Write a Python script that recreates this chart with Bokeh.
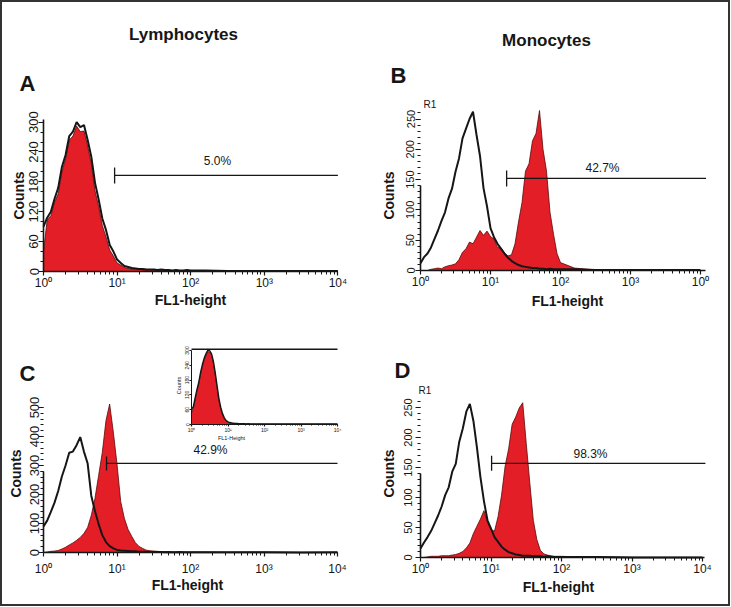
import math
from bokeh.plotting import figure
from bokeh.layouts import row, column
from bokeh.models import Range1d, LogScale, LogAxis, LinearAxis, FixedTicker, Label
from bokeh.embed import file_html
from bokeh.resources import INLINE

# ---------------- data ----------------
# histogram channel positions (log10 of FL1)
fl1_decade = [0.00, 0.05, 0.10, 0.15, 0.20, 0.25, 0.30, 0.35, 0.40, 0.45,
              0.50, 0.55, 0.60, 0.65, 0.70, 0.75, 0.80, 0.85, 0.90, 0.95,
              1.00, 1.05, 1.10, 1.15, 1.20, 1.25, 1.30, 1.35, 1.40, 1.45,
              1.50, 1.55, 1.60, 1.65, 1.70, 1.75, 1.80, 1.85, 1.90, 1.95,
              2.00, 2.20, 2.50, 3.00, 3.50, 4.00]

a_red = [40, 104, 112, 139, 156, 200, 226, 264, 272, 292,
         281, 282, 252, 216, 162, 130, 92, 69, 43, 31,
         17, 13, 8, 6, 5, 4, 4, 3, 3, 3,
         2, 2, 2, 3, 2, 2, 1, 2, 1, 2,
         1, 1, 0, 0, 0, 0]
a_black = [90, 108, 120, 146, 168, 210, 234, 272, 281, 300,
           290, 294, 264, 230, 178, 144, 106, 83, 53, 40,
           24, 17, 11, 9, 7, 6, 5, 5, 4, 4,
           4, 3, 4, 3, 3, 2, 3, 2, 2, 3,
           2, 2, 1, 1, 1, 1]

b_red = [0, 0, 0, 2, 3, 4, 3, 6, 8, 9,
         11, 18, 30, 36, 47, 44, 55, 66, 58, 65,
         56, 52, 38, 37, 29, 24, 26, 44, 80, 112,
         164, 176, 214, 226, 264, 200, 164, 96, 60, 28,
         13, 4, 1, 0, 0, 0]
b_black = [12, 22, 28, 38, 52, 66, 82, 96, 119, 135,
           163, 185, 218, 234, 250, 262, 224, 189, 136, 106,
           70, 55, 44, 36, 28, 21, 16, 12, 9, 7,
           6, 5, 4, 4, 3, 3, 2, 3, 2, 2,
           2, 2, 1, 1, 1, 1]

c_red = [0, 2, 4, 5, 7, 12, 18, 26, 33, 42,
         52, 66, 86, 128, 186, 266, 345, 455, 512, 415,
         305, 176, 118, 80, 56, 34, 21, 14, 8, 6,
         5, 4, 3, 3, 2, 2, 2, 1, 2, 1,
         1, 1, 0, 1, 0, 0]
c_black = [90, 110, 140, 172, 212, 262, 300, 344, 348, 370,
           398, 348, 308, 196, 143, 98, 60, 36, 22, 14,
           9, 7, 6, 5, 4, 4, 3, 3, 3, 2,
           2, 2, 2, 1, 2, 1, 1, 2, 1, 1,
           1, 1, 1, 1, 0, 1]

d_red = [0, 0, 1, 2, 2, 2, 3, 3, 3, 4,
         5, 7, 10, 16, 24, 40, 52, 64, 78, 59,
         46, 44, 68, 104, 152, 181, 222, 234, 249, 258,
         190, 125, 62, 30, 12, 6, 4, 3, 2, 2,
         2, 1, 1, 0, 0, 0]
d_black = [15, 25, 34, 44, 57, 70, 85, 104, 117, 143,
           156, 193, 215, 243, 256, 228, 184, 134, 94, 62,
           48, 34, 26, 18, 13, 9, 7, 5, 4, 3,
           3, 3, 2, 2, 2, 1, 2, 1, 1, 1,
           1, 1, 1, 0, 0, 0]

inset_red = [45, 66, 100, 135, 164, 205, 236, 262, 280, 296,
             292, 280, 248, 200, 148, 96, 62, 38, 22, 13,
             9, 6, 5, 4, 3, 3, 2, 2, 2, 2,
             2, 2, 2, 1, 2, 1, 1, 2, 1, 1,
             1, 1, 1, 1, 1, 1]
inset_black = [60, 72, 108, 142, 172, 212, 244, 270, 288, 302,
               298, 286, 256, 210, 158, 106, 70, 44, 27, 16,
               11, 8, 6, 5, 4, 4, 3, 3, 3, 3,
               2, 3, 2, 2, 2, 2, 2, 2, 2, 2,
               2, 2, 2, 2, 2, 2]

# marker gates: [start, end] on FL1 and level in counts
a_gate = [9.25, 10000]; a_gate_level = 193; a_pct = "5.0%"
b_gate = [17.0, 12000]; b_gate_level = 152; b_pct = "42.7%"
c_gate = [7.2, 10000]; c_gate_level = 307; c_pct = "42.9%"
d_gate = [10.2, 11000]; d_gate_level = 157; d_pct = "98.3%"
inset_gate = [1, 10000]; inset_gate_level = 305

x_ticks = [1, 10, 100, 1000, 10000]
x_labels = ["10\u2070", "10\u00b9", "10\u00b2", "10\u00b3", "10\u2074"]
x_labels_b = ["10\u2070", "10\u00b9", "10\u00b2", "10\u00b3", "10\u2070"]
x_minor = [m * 10 ** k for k in range(4) for m in range(2, 10)]

a_yticks = [0, 60, 120, 180, 240, 300]
bd_yticks = [0, 50, 100, 150, 200, 250]
c_yticks = [0, 100, 200, 300, 400, 500]

fl1 = [10 ** d for d in fl1_decade]

RED = "#e31e26"
EDGE = "#5a0a0a"
INK = "#161616"
FONT = "Liberation Sans"


def style_axis(ax, size, standoff, tick=5, minor=3, lw=1.6):
    ax.axis_line_width = lw
    ax.axis_line_color = INK
    ax.major_tick_out = tick
    ax.major_tick_in = 0
    ax.minor_tick_out = minor
    ax.minor_tick_in = 0
    ax.major_tick_line_width = 1.2
    ax.minor_tick_line_width = 1
    ax.major_tick_line_color = INK
    ax.minor_tick_line_color = INK
    ax.major_label_text_font = FONT
    ax.major_label_text_font_size = size
    ax.major_label_text_color = INK
    ax.major_label_standoff = standoff


def make_panel(w, h, x0, ppd, y0, ppc):
    """Frame fills the whole figure; x0/y0 = pixel of FL1=1 / count=0."""
    xr = Range1d(10 ** (-x0 / ppd), 10 ** ((w - x0) / ppd))
    yr = Range1d(-(h - y0) / ppc, y0 / ppc)
    p = figure(width=w, height=h, x_range=xr, y_range=yr,
               x_axis_location=None, y_axis_location=None,
               output_backend="svg", toolbar_location=None, min_border=0)
    p.x_scale = LogScale()
    p.outline_line_color = None
    p.grid.visible = False
    p.background_fill_color = "white"
    p.border_fill_color = "white"
    return p


def add_x_axis(p, labels, x_end, standoff, size="12px", **rng):
    xa = LogAxis(fixed_location=0, bounds=(1, x_end),
                 ticker=FixedTicker(ticks=x_ticks, minor_ticks=x_minor),
                 major_label_overrides=dict(zip(x_ticks, labels)), **rng)
    style_axis(xa, size, standoff, tick=4)
    p.add_layout(xa, "below")
    return xa


def add_y_axis(p, ticks, minor, bounds, size, standoff, line=True, **rng):
    ya = LinearAxis(fixed_location=1, bounds=bounds,
                    ticker=FixedTicker(ticks=ticks, minor_ticks=minor),
                    major_label_orientation="vertical", **rng)
    style_axis(ya, size, standoff)
    if not line:
        ya.axis_line_color = None
    p.add_layout(ya, "left")
    return ya


def draw_hist(p, red, black, gate, level, tick, lw=2.0, **rng):
    p.varea(x=fl1, y1=0, y2=red, fill_color=RED, **rng)
    p.line(x=fl1, y=red, line_color=EDGE, line_width=0.8, **rng)
    p.line(x=fl1, y=black, line_color=INK, line_width=lw, **rng)
    p.line(x=gate, y=[level, level], line_color=INK, line_width=1.3, **rng)
    if tick:
        p.scatter(x=gate[:1], y=[level], marker="dash", angle=math.pi / 2,
                  size=tick, line_color=INK, line_width=1.3, **rng)


def text(p, x, y, s, size, bold=False, align="center", angle=0.0):
    """x, y: pixel position from the figure's top-left corner."""
    p.add_layout(Label(x=x, y=p.height - y, x_units="screen", y_units="screen",
                       text=s, text_font=FONT, text_font_size=size,
                       text_font_style="bold" if bold else "normal",
                       text_align=align, text_baseline="middle",
                       text_color=INK, angle=angle))


VERT = math.pi / 2

# ---------------- panel A ----------------
pa = make_panel(363, 318, 41, 73.6, 269, 0.498)
draw_hist(pa, a_red, a_black, a_gate, a_gate_level, 16)
add_x_axis(pa, x_labels, 10000, 0)
add_y_axis(pa, a_yticks, list(range(0, 301, 20)), (0, 305), "13px", 0)
text(pa, 181, 32, "Lymphocytes", "17px", bold=True)
text(pa, 25, 81, "A", "22px", bold=True)
text(pa, 215, 158, a_pct, "12px")
text(pa, 16, 193, "Counts", "14px", bold=True, angle=VERT)
text(pa, 188, 297, "FL1-height", "14px", bold=True)

# ---------------- panel B ----------------
pb = make_panel(363, 318, 55, 70.0, 268, 0.606)
draw_hist(pb, b_red, b_black, b_gate, b_gate_level, 16)
add_x_axis(pb, x_labels_b, 10 ** 4.07, 0)
add_y_axis(pb, bd_yticks[:3], list(range(0, 141, 10)), (0, 140), "11px", 1)
add_y_axis(pb, bd_yticks[3:], list(range(150, 270, 10)), (140, 269), "11px", 1,
           line=False)
text(pb, 181, 38, "Monocytes", "17px", bold=True)
text(pb, 33, 73, "B", "22px", bold=True)
text(pb, 58, 102, "R1", "10px", align="left")
text(pb, 237, 165, b_pct, "12px")
text(pb, 23, 193, "Counts", "14px", bold=True, angle=VERT)
text(pb, 202, 298, "FL1-height", "14px", bold=True)

# ---------------- panel C (with inset) ----------------
pc = make_panel(363, 284, 41, 73.5, 232, 0.29)
draw_hist(pc, c_red, c_black, c_gate, c_gate_level, 14)
add_x_axis(pc, x_labels, 10000, 5)
add_y_axis(pc, c_yticks[:3], list(range(0, 281, 20)), (0, 280), "13px", 0)
add_y_axis(pc, c_yticks[3:], list(range(280, 501, 20)), (280, 500), "13px", 0,
           line=False)
text(pc, 25, 53, "C", "22px", bold=True)
text(pc, 208, 129, c_pct, "12px")
text(pc, 13, 153, "Counts", "14px", bold=True, angle=VERT)
text(pc, 185, 264, "FL1-height", "14px", bold=True)

# inset (isotype control) drawn through its own log / linear scales
ix0, ippd, iy0, ippc = 189, 36.5, 104, 0.2467
pc.extra_x_ranges = {"ix": Range1d(10 ** (-ix0 / ippd), 10 ** ((363 - ix0) / ippd))}
pc.extra_x_scales = {"ix": LogScale()}
pc.extra_y_ranges = {"iy": Range1d(-(284 - iy0) / ippc, iy0 / ippc)}
inset = dict(x_range_name="ix", y_range_name="iy")
draw_hist(pc, inset_red, inset_black, inset_gate, inset_gate_level, 0, lw=1.4,
          **inset)
ixa = add_x_axis(pc, x_labels, 10000, 0, size="5px", **inset)
iya = add_y_axis(pc, a_yticks, [], (0, 300), "5px", 0, **inset)
for ax in (ixa, iya):
    ax.axis_line_width = 1
    ax.major_tick_out = 2
    ax.minor_tick_out = 1
text(pc, 176, 65, "Counts", "5.5px", angle=VERT)
text(pc, 229, 117, "FL1-Height", "5.5px")

# ---------------- panel D ----------------
pd = make_panel(363, 284, 55, 70.5, 237, 0.6)
draw_hist(pd, d_red, d_black, d_gate, d_gate_level, 15)
add_x_axis(pd, x_labels, 10 ** 4.03, 0)
add_y_axis(pd, bd_yticks[:3], list(range(0, 141, 10)), (0, 140), "11px", 4)
add_y_axis(pd, bd_yticks[3:], list(range(150, 266, 10)), (140, 265), "11px", 4,
           line=False)
text(pd, 37, 50, "D", "22px", bold=True)
text(pd, 53, 70, "R1", "10px", align="left")
text(pd, 225, 133, d_pct, "12px")
text(pd, 23, 153, "Counts", "14px", bold=True, angle=VERT)
text(pd, 193, 266, "FL1-height", "14px", bold=True)

layout = column(row(pa, pb), row(pc, pd),
                styles={"border": "2px solid #333"})

open("out.html", "w").write(file_html(layout, INLINE))
